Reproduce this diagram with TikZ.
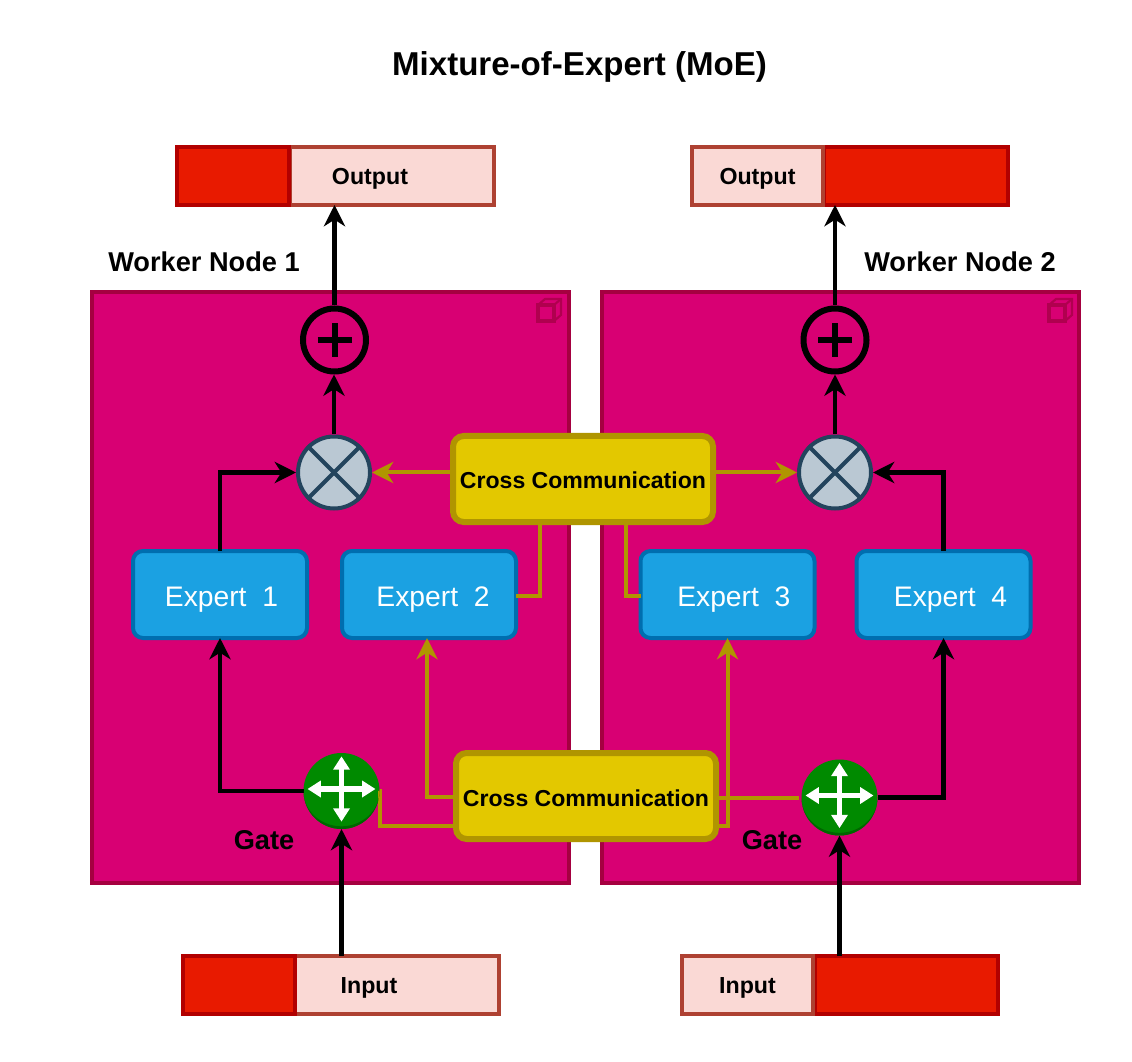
\documentclass[tikz,border=0pt]{standalone}
\usepackage{fontspec}
\setmainfont{Liberation Sans}
\usetikzlibrary{arrows.meta}
\definecolor{panelF}{HTML}{D80073}
\definecolor{panelD}{HTML}{A50040}
\definecolor{cubeD}{HTML}{B0004F}
\definecolor{redF}{HTML}{E81A00}
\definecolor{redD}{HTML}{B20000}
\definecolor{pinkF}{HTML}{FAD9D5}
\definecolor{pinkD}{HTML}{AE4132}
\definecolor{blueF}{HTML}{1BA1E2}
\definecolor{blueD}{HTML}{006EAF}
\definecolor{goldF}{HTML}{E3C800}
\definecolor{goldD}{HTML}{B09500}
\definecolor{greenF}{HTML}{008A00}
\definecolor{greenD}{HTML}{006600}
\definecolor{greyF}{HTML}{BAC8D3}
\definecolor{greyD}{HTML}{23445D}
\newcommand{\ctext}[2][0pt]{\smash{\raisebox{\dimexpr-0.36em-#1\relax}{#2}}}
\tikzset{
  px/.style={x=0.75pt,y=-0.75pt},
  box/.style 2 args={rectangle,inner sep=0pt,outer sep=0pt,minimum width=#1*0.75pt,minimum height=#2*0.75pt},
  panel/.style={draw=panelD,fill=panelF,line width=3pt,box={#1}{591}},
  darkpart/.style 2 args={draw=redD,fill=redF,line width=3pt,box={#1}{#2}},
  lightpart/.style 2 args={draw=pinkD,fill=pinkF,line width=3pt,box={#1}{#2},font=\fontsize{17.4}{20}\selectfont\bfseries},
  barlabel/.style={inner sep=0pt,font=\fontsize{17.4}{20}\selectfont\bfseries},
  expert/.style={draw=blueD,fill=blueF,line width=3pt,rounded corners=7.5pt,box={174}{87},text=white,font=\fontsize{21.2}{25}\selectfont},
  cross/.style={draw=goldD,fill=goldF,line width=4.5pt,rounded corners=8pt,box={260}{86},font=\fontsize{17.3}{20}\selectfont\bfseries},
  plusnode/.style={circle,draw=black,line width=4.5pt,inner sep=0pt,outer sep=2.25pt,minimum size=63*0.75pt},
  multnode/.style={circle,draw=greyD,fill=greyF,line width=3pt,inner sep=0pt,outer sep=1.5pt,minimum size=72*0.75pt},
  gatenode/.style={circle,fill=greenF,inner sep=0pt,outer sep=0pt,minimum size=76*0.75pt},
  lbl/.style={font=\fontsize{20.4}{24}\selectfont\bfseries,inner sep=0pt},
  blk/.style={draw=black,line width=3.6pt,-{Stealth[length=16pt,width=16pt,inset=5pt]}},
  gld/.style={draw=goldD,line width=3pt},
  gldA/.style={gld,-{Stealth[length=16pt,width=16pt,inset=5pt]}},
  wht/.style={draw=white,line width=3.8pt,{Triangle[length=10pt,width=12pt]}-{Triangle[length=10pt,width=12pt]}},
}
\newcommand{\cube}[2]{%
  \draw[cubeD,line width=3pt] (#1-12,#2-6) rectangle (#1+4,#2+10);
  \draw[cubeD,line width=1.6pt] (#1-12,#2-6) -- (#1-5,#2-12) -- (#1+11,#2-12) -- (#1+11,#2+4) -- (#1+4,#2+10);
  \draw[cubeD,line width=1.6pt] (#1+4,#2-6) -- (#1+11,#2-12);
}
\newcommand{\plusmark}[1]{%
  \draw[black,line width=4.5pt] ([xshift=-12.75pt]#1.center) -- ([xshift=12.75pt]#1.center);
  \draw[black,line width=4.5pt] ([yshift=-12.75pt]#1.center) -- ([yshift=12.75pt]#1.center);
}
\newcommand{\multmark}[1]{%
  \draw[greyD,line width=3pt] (#1.45) -- (#1.225);
  \draw[greyD,line width=3pt] (#1.135) -- (#1.315);
}
\newcommand{\gatemark}[1]{%
  \fill[greenD] (#1.west) arc[start angle=180,end angle=360,radius=28.5pt] arc[start angle=0,end angle=-180,x radius=28.5pt,y radius=26.5pt] -- cycle;
  \draw[wht] ([xshift=-25.5pt,yshift=1.5pt]#1.center) -- ([xshift=25.5pt,yshift=1.5pt]#1.center);
  \draw[wht] ([yshift=-23pt]#1.center) -- ([yshift=26pt]#1.center);
}
\begin{document}
\begin{tikzpicture}[px]
\useasboundingbox (0,0) rectangle (1132,1062);
\node[font=\fontsize{24.8}{30}\selectfont\bfseries] (title) at (579.5,67) {Mixture-of-Expert (MoE)};

% panels
\node[panel={476.5}] (panelL) at (330.3,587.5) {};
\node[panel={477}] (panelR) at (840.5,587.5) {};
\cube{550}{311}
\cube{1061}{311}

% output and input bars
\node[lightpart={204}{58}] (outL) at (391.5,176) {};
\node[darkpart={112}{58}] (outLd) at (233,176) {};
\node[barlabel] (outLt) at (370,176.5) {\ctext{Output}};
\node[darkpart={184}{58}] (outRd) at (916,176) {};
\node[lightpart={131}{58}] (outR) at (757.5,176) {\ctext{Output}};
\node[lightpart={204}{58}] (inL) at (397,985) {};
\node[darkpart={112}{58}] (inLd) at (239,985) {};
\node[barlabel] (inLt) at (369,985) {\ctext{Input}};
\node[darkpart={183}{58}] (inRd) at (906.5,985) {};
\node[lightpart={131}{58}] (inR) at (747.5,985) {\ctext{Input}};

% main nodes
\node[plusnode] (plusL) at (334.5,340) {};
\node[plusnode] (plusR) at (835,340) {};
\node[multnode] (multL) at (334,472.5) {};
\node[multnode] (multR) at (835,472.5) {};
\node[expert] (e1) at (220,594.5) {\ctext[1.5pt]{\hspace*{2.2pt}Expert\ \ 1}};
\node[expert] (e2) at (429,594.5) {\ctext[1.5pt]{\hspace*{6pt}Expert\ \ 2}};
\node[expert] (e3) at (727.5,594.5) {\ctext[1.5pt]{\hspace*{9.5pt}Expert\ \ 3}};
\node[expert] (e4) at (943.5,594.5) {\ctext[1.5pt]{\hspace*{10.5pt}Expert\ \ 4}};
\node[gatenode] (gateL) at (341.5,791) {};
\node[gatenode] (gateR) at (839.5,797.5) {};

% gold connectors
\coordinate (c2) at (539.5,595.5);
\coordinate (c3) at (626,595.5);
\coordinate (c4) at (427,797);
\coordinate (c5) at (380,826);
\coordinate (c6) at (727.5,826);
\node[cross] (crossT) at (583,479) {\ctext[0.8pt]{Cross Communication}};
\node[cross] (crossB) at (586,796) {\ctext[1.5pt]{Cross Communication}};
\draw[gld] (e2.east |- c2) -- (c2) -- (c2 |- crossT.south);
\draw[gld] (e3.west |- c3) -- (c3) -- (c3 |- crossT.south);
\draw[gldA] (crossB.west |- c4) -- (c4) -- (c4 |- e2.south);
\draw[gld] (gateL.east) -- (c5 |- gateL.east) -- (c5) -- (c5 -| crossB.west);
\draw[gld,shorten >=2pt] (crossB.east |- gateR.west) -- (gateR.west);
\draw[gldA] (crossB.east |- c6) -- (c6) -- (c6 |- e3.south);
\draw[gldA] (crossT.west |- multL.east) -- (multL.east);
\draw[gldA] (crossT.east |- multR.west) -- (multR.west);

% black connectors
\draw[blk] (e1.north) |- (multL.west);
\draw[blk] (e4.north) |- (multR.east);
\draw[blk] (gateL.west) -| (e1.south);
\draw[blk] (gateR.east) -| (e4.south);
\draw[blk] (multL.north) -- (plusL.south -| multL.north);
\draw[blk] (multR.north) -- (plusR.south);
\draw[blk] (plusL.north) -- (plusL.north |- outL.south);
\draw[blk] (plusR.north) -- (plusR.north |- outRd.south);
\draw[blk] (gateL.south |- inL.north) -- (gateL.south);
\draw[blk] (gateR.south |- inRd.north) -- (gateR.south);

% glyphs inside circles
\plusmark{plusL}
\plusmark{plusR}
\multmark{multL}
\multmark{multR}
\gatemark{gateL}
\gatemark{gateR}

% labels
\node[lbl] (w1) at (204,262) {Worker Node 1};
\node[lbl] (w2) at (960,262) {Worker Node 2};
\node[lbl] (g1) at (264,840) {Gate};
\node[lbl] (g2) at (772,840) {Gate};
\end{tikzpicture}
\end{document}
